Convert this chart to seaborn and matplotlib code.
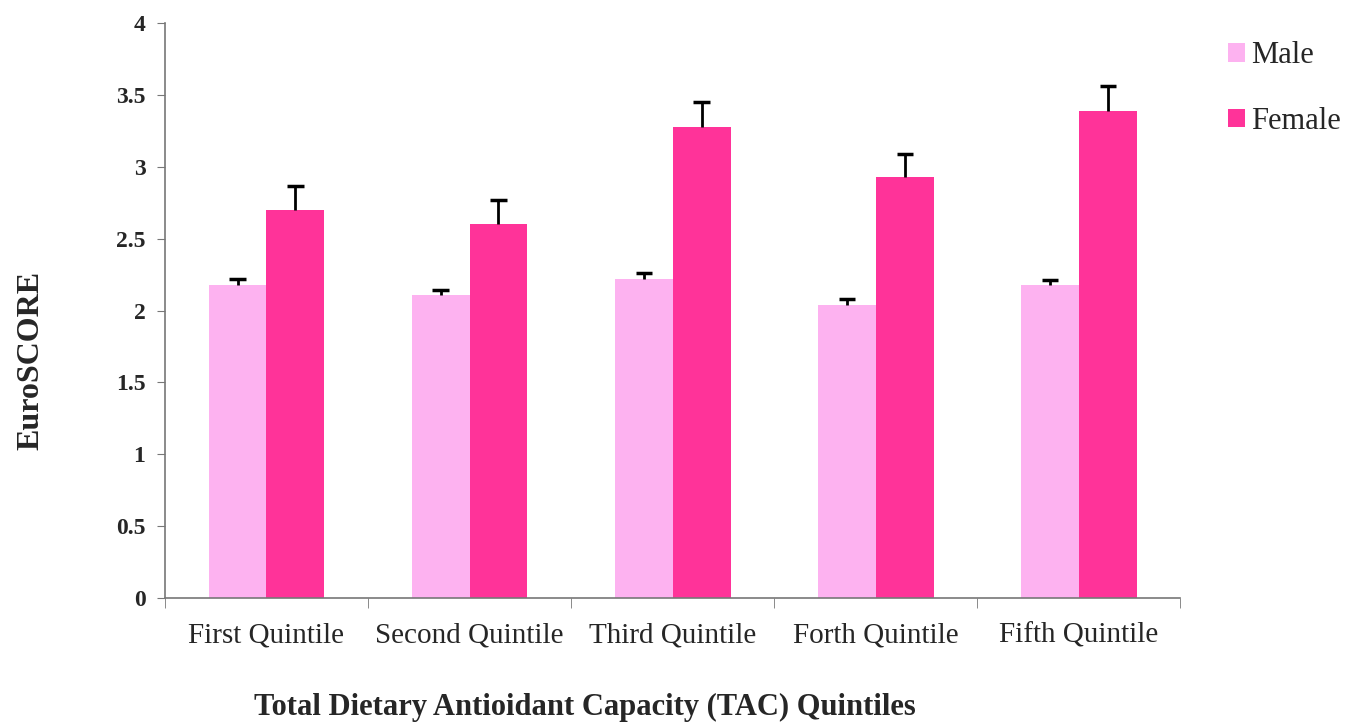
import numpy as np
import pandas as pd
import matplotlib.pyplot as plt
import seaborn as sns
from matplotlib.ticker import FixedLocator

quintiles = ["First Quintile", "Second Quintile", "Third Quintile", "Forth Quintile", "Fifth Quintile"]
male = [2.18, 2.11, 2.22, 2.04, 2.18]
female = [2.70, 2.60, 3.28, 2.93, 3.39]
male_err = [0.04, 0.03, 0.04, 0.04, 0.03]
female_err = [0.17, 0.17, 0.17, 0.16, 0.17]

df = pd.DataFrame({
    "quintile": quintiles * 2,
    "sex": ["Male"] * 5 + ["Female"] * 5,
    "score": male + female,
    "err": male_err + female_err,
})

sns.set_style("white")
plt.rcParams["font.family"] = ["Liberation Serif", "DejaVu Serif"]

fig = plt.figure(figsize=(13.63, 7.23), dpi=100)
ax = fig.add_axes([0.121, 0.173, 0.745, 0.795])

palette = {"Male": "#FDB2F0", "Female": "#FF3399"}
sns.barplot(data=df, x="quintile", y="score", hue="sex", palette=palette,
            width=0.57, gap=0, errorbar=None, ax=ax, saturation=1, linewidth=0)

# upper-only error bars (cap at the top only), placed on the bars seaborn drew
bars = [p for p in ax.patches if p.get_height() > 0]
for bar, err in zip(bars, df["err"]):
    xc = bar.get_x() + bar.get_width() / 2
    top = bar.get_height()
    ax.vlines(xc, top, top + err, color="black", linewidth=2)
    ax.hlines(top + err, xc - 0.04, xc + 0.04, color="black", linewidth=2.5)

ax.set_ylim(0, 4)
ax.set_xlim(-0.5, 4.5)
ax.set_yticks(np.arange(0, 4.01, 0.5))
ax.set_yticklabels(["0", "0.5", "1", "1.5", "2", "2.5", "3", "3.5", "4"],
                   fontsize=17, fontweight="bold")
ax.tick_params(axis="y", direction="out", length=6, color="#777777", left=True, pad=8)
ax.tick_params(axis="x", which="major", length=0, labelsize=21, pad=18)
ax.xaxis.set_minor_locator(FixedLocator(np.arange(-0.5, 4.6, 1)))
ax.tick_params(axis="x", which="minor", direction="out", length=7, color="#777777", bottom=True)

for s in ["top", "right"]:
    ax.spines[s].set_visible(False)
for s in ["left", "bottom"]:
    ax.spines[s].set_color("#777777")
    ax.spines[s].set_linewidth(1.2)

ax.set_ylabel("EuroSCORE", fontsize=23, fontweight="bold")
ax.yaxis.set_label_coords(-0.118, 0.414)
ax.set_xlabel("Total Dietary Antioidant Capacity (TAC) Quintiles", fontsize=22, fontweight="bold")
ax.xaxis.set_label_coords(0.414, -0.165)

handles, labels = ax.get_legend_handles_labels()
ax.legend(handles, labels, loc="upper left", bbox_to_anchor=(1.035, 0.99), frameon=False,
          fontsize=22, handlelength=0.55, handleheight=0.55, handletextpad=0.2,
          labelspacing=1.2, borderaxespad=0)

fig.savefig("out.png", dpi=100)
